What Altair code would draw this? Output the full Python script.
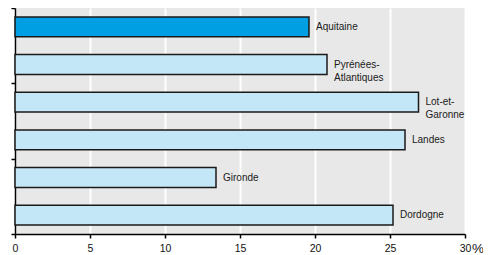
import altair as alt
import pandas as pd

regions = ["Aquitaine", "Pyrénées-\nAtlantiques", "Lot-et-\nGaronne", "Landes", "Gironde", "Dordogne"]
values = [19.6, 20.8, 26.9, 26.0, 13.4, 25.2]
highlight = [True, False, False, False, False, False]
x_ticks = [0, 5, 10, 15, 20, 25, 30]
y_ticks = [0, 1, 2, 3, 4, 5, 6]

df = pd.DataFrame({
    "region": regions,
    "value": values,
    "hl": highlight,
    "idx": list(range(len(regions))),
})
df["y0"] = df["idx"] + 0.237
df["y1"] = df["idx"] + 0.763
df["ym"] = df["idx"] + 0.5

FONT = "Liberation Sans"

xscale = alt.Scale(domain=[0, 30], nice=False, zero=True)
yscale = alt.Scale(domain=[6, 0], nice=False, zero=False)

base = alt.Chart(df)

bars = base.mark_bar(stroke="#1a1a1a", strokeWidth=1.5).encode(
    x=alt.X("value:Q", scale=xscale,
            axis=alt.Axis(values=x_ticks, tickSize=4, tickColor="#000", tickWidth=1.5,
                          domainColor="#000", domainWidth=1.5, labelFontSize=10.5,
                          labelFont=FONT, labelColor="#111", labelPadding=5,
                          labelFlush=False, labelOverlap=False,
                          grid=True, gridColor="white", gridWidth=2,
                          title="%", titleFont=FONT, titleFontSize=13.5,
                          titleFontWeight="normal", titleColor="#111",
                          titleAlign="left", titleAnchor="start", titleBaseline="alphabetic",
                          titleX=456.5, titleY=18.5, titleAngle=0)),
    x2=alt.value(0),
    y=alt.Y("y0:Q", scale=yscale,
            axis=alt.Axis(values=y_ticks, tickSize=4, tickColor="#000", tickWidth=1.5,
                          domainColor="#000", domainWidth=1.5, labels=False,
                          grid=False, title=None)),
    y2="y1:Q",
    color=alt.Color("hl:N", scale=alt.Scale(domain=[True, False], range=["#009FE3", "#C4E7F7"]),
                    legend=None),
)

labels = base.mark_text(align="left", baseline="middle", dx=7, fontSize=10, font=FONT,
                        color="#1a1a1a", lineBreak="\n", lineHeight=13).encode(
    x=alt.X("value:Q", scale=xscale),
    y=alt.Y("ym:Q", scale=yscale),
    text="region:N",
)

chart = (bars + labels).properties(
    width=450, height=226,
    background="white",
    autosize=alt.AutoSizeParams(type="none"),
    padding={"left": 7, "top": 0, "right": 18, "bottom": 21},
).configure_view(fill="#E8E8E8", stroke=None)

chart.save("out.html", embed_options={"renderer": "svg", "actions": False})
